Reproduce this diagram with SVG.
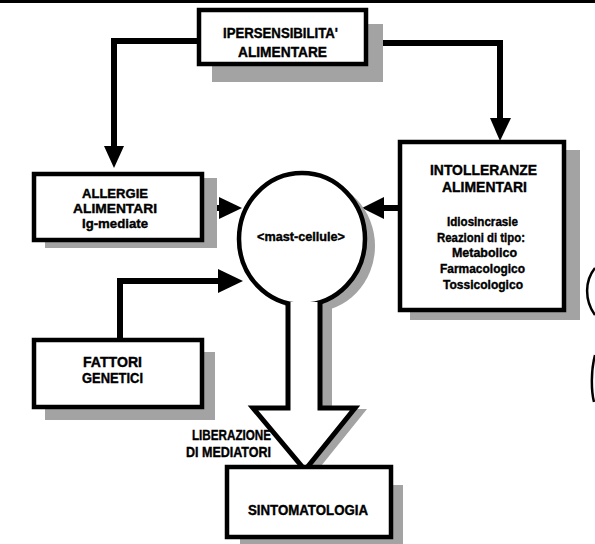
<svg xmlns="http://www.w3.org/2000/svg" width="595" height="544" viewBox="0 0 595 544">
<style>
.box{fill:#fff;stroke:#000;stroke-width:4.5}
.sh{fill:#a3a3a3}
.t{font-family:"Liberation Sans",Arial,sans-serif;font-weight:bold;font-size:15px;fill:#000;stroke:#000;stroke-width:0.4;text-anchor:middle}
.s{font-size:13.5px}
.ln{fill:none;stroke:#000;stroke-width:6}
</style>
<rect width="595" height="544" fill="#fff"/>
<rect x="0" y="0" width="595" height="3" fill="#000"/>

<g id="connectors">
  <polyline class="ln" points="199,41 114,41 114,148"/>
  <polygon points="104,146 124,146 114,168" fill="#000"/>
  <polyline class="ln" points="383,43 500,43 500,120"/>
  <polygon points="490,118 511,118 500,141" fill="#000"/>
  <line class="ln" x1="204" y1="208" x2="222" y2="208"/>
  <polygon points="219,197 219,219 242,208" fill="#000"/>
  <line class="ln" x1="400" y1="208" x2="380" y2="208"/>
  <polygon points="384,197 384,219 362,208" fill="#000"/>
  <polyline class="ln" points="120,340 120,281 222,281"/>
  <polygon points="218,269 218,293 243,281" fill="#000"/>
</g>

<g id="mast-cellule">
  <ellipse cx="312" cy="246" rx="63" ry="66" class="sh"/>
  <path d="M288,300 L288,408 L253,408 L305,470 L355,408 L320,408 L320,300 Z" transform="translate(12,1)" class="sh"/>
  <ellipse cx="302" cy="239" rx="63" ry="66" fill="#fff" stroke="#000" stroke-width="4.5"/>
  <text class="t s" x="301" y="241" textLength="88" lengthAdjust="spacingAndGlyphs">&lt;mast-cellule&gt;</text>
</g>

<g id="liberazione-arrow">
  <path d="M288,302 L288,408 L253,408 L305,470 L355,408 L320,408 L320,302" fill="#fff" stroke="#000" stroke-width="5" stroke-linejoin="miter"/>
  <text class="t" style="text-anchor:end" x="271" y="440" textLength="79" lengthAdjust="spacingAndGlyphs">LIBERAZIONE</text>
  <text class="t" style="text-anchor:end" x="271" y="457" textLength="85" lengthAdjust="spacingAndGlyphs">DI MEDIATORI</text>
</g>

<g id="ipersensibilita">
  <rect class="sh" x="212" y="24" width="171" height="58"/>
  <rect class="box" x="199" y="10" width="167" height="54"/>
  <text class="t" x="280.5" y="38" textLength="115" lengthAdjust="spacingAndGlyphs">IPERSENSIBILITA'</text>
  <text class="t" x="282.5" y="57" textLength="89" lengthAdjust="spacingAndGlyphs">ALIMENTARE</text>
</g>

<g id="allergie">
  <rect class="sh" x="45" y="178" width="172" height="70"/>
  <rect class="box" x="34" y="174" width="168" height="66"/>
  <text class="t s" x="115" y="197.5" textLength="66" lengthAdjust="spacingAndGlyphs">ALLERGIE</text>
  <text class="t s" x="115" y="212.5" textLength="84" lengthAdjust="spacingAndGlyphs">ALIMENTARI</text>
  <text class="t s" x="115" y="227.5" textLength="66" lengthAdjust="spacingAndGlyphs">Ig-mediate</text>
</g>

<g id="intolleranze">
  <rect class="sh" x="410" y="150" width="170" height="170"/>
  <rect class="box" x="400" y="142" width="164" height="168"/>
  <text class="t" x="483.5" y="175" textLength="107" lengthAdjust="spacingAndGlyphs">INTOLLERANZE</text>
  <text class="t" x="484.5" y="192" textLength="85" lengthAdjust="spacingAndGlyphs">ALIMENTARI</text>
  <text class="t s" x="482.5" y="226" textLength="71" lengthAdjust="spacingAndGlyphs">Idiosincrasie</text>
  <text class="t s" x="481" y="241.5" textLength="88" lengthAdjust="spacingAndGlyphs">Reazioni di tipo:</text>
  <text class="t s" x="484.5" y="257" textLength="65" lengthAdjust="spacingAndGlyphs">Metabolico</text>
  <text class="t s" x="482.5" y="273" textLength="85" lengthAdjust="spacingAndGlyphs">Farmacologico</text>
  <text class="t s" x="483" y="289" textLength="80" lengthAdjust="spacingAndGlyphs">Tossicologico</text>
</g>

<g id="fattori">
  <rect class="sh" x="45" y="352" width="170" height="68"/>
  <rect class="box" x="34" y="340" width="168" height="67"/>
  <text class="t" x="112.5" y="367" textLength="59" lengthAdjust="spacingAndGlyphs">FATTORI</text>
  <text class="t" x="112.5" y="383" textLength="61" lengthAdjust="spacingAndGlyphs">GENETICI</text>
</g>

<g id="sintomatologia">
  <rect class="sh" x="240" y="485" width="163" height="59"/>
  <rect class="box" x="227" y="467" width="164" height="70"/>
  <text class="t" x="308" y="515" textLength="120" lengthAdjust="spacingAndGlyphs">SINTOMATOLOGIA</text>
</g>

<path d="M595,268 C585,280 584,300 595,315" fill="none" stroke="#000" stroke-width="2.5"/>
<path d="M595,355 C591,370 591,390 594,402" fill="none" stroke="#000" stroke-width="2.5"/>
</svg>
